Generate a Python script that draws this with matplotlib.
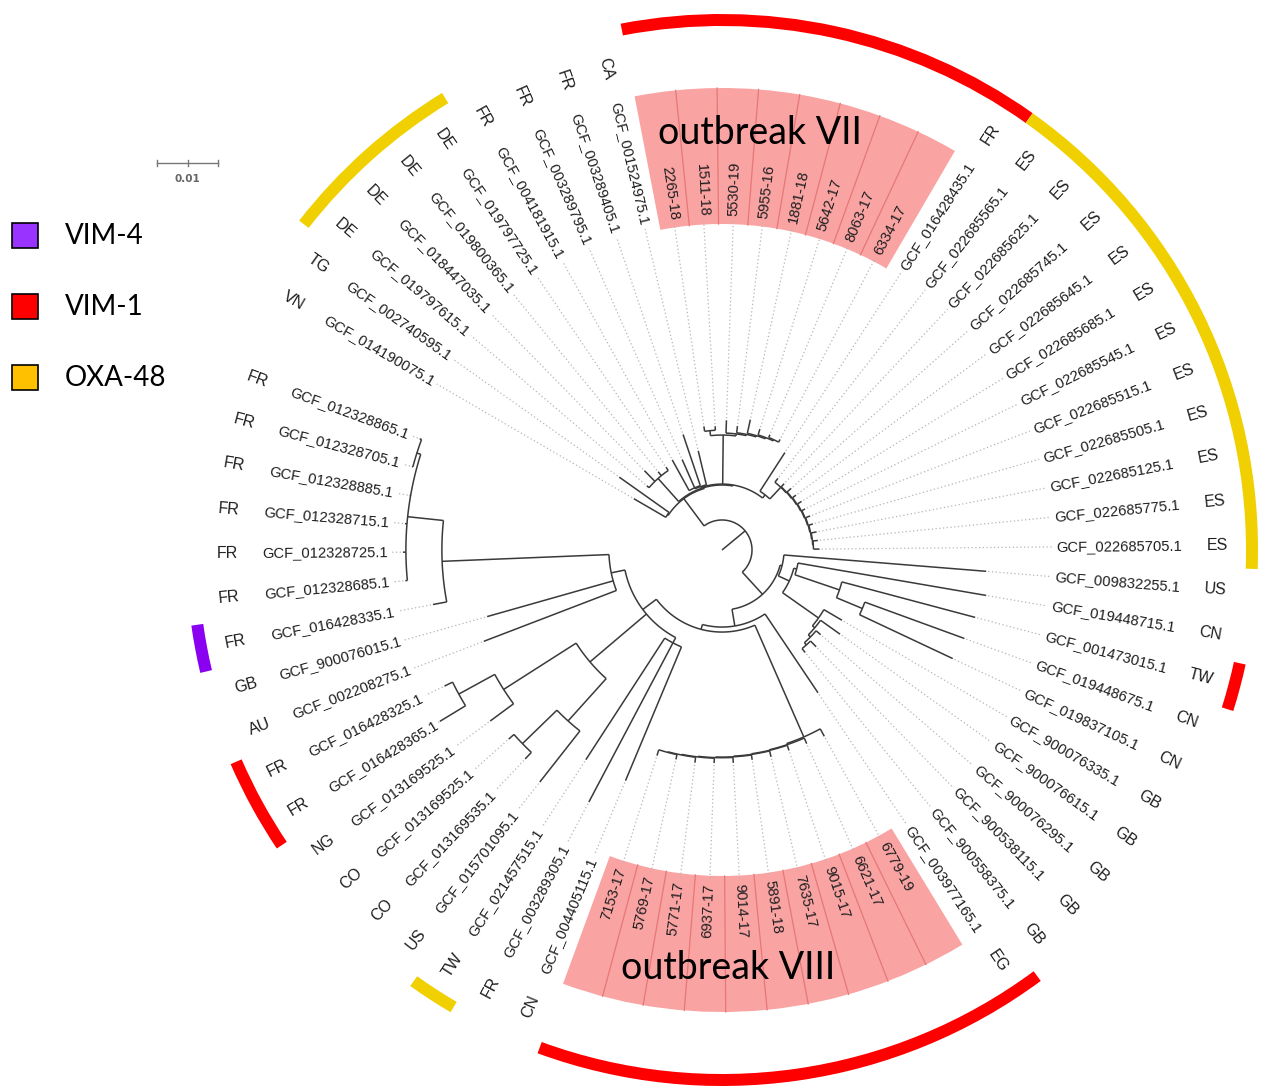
import numpy as np
import matplotlib.pyplot as plt
from matplotlib.patches import Wedge, Rectangle

# leaves in drawing order (counter-clockwise, starting after the gap)
strains = [
    "GCF_012328865.1", "GCF_012328705.1", "GCF_012328885.1", "GCF_012328715.1",
    "GCF_012328725.1", "GCF_012328685.1", "GCF_016428335.1", "GCF_900076015.1",
    "GCF_002208275.1", "GCF_016428325.1", "GCF_016428365.1", "GCF_013169525.1",
    "GCF_013169525.1", "GCF_013169535.1", "GCF_015701095.1", "GCF_021457515.1",
    "GCF_003289305.1", "GCF_004405115.1",
    "7153-17", "5769-17", "5771-17", "6937-17", "9014-17", "5891-18", "7635-17",
    "9015-17", "6621-17", "6779-19",
    "GCF_003977165.1", "GCF_900558375.1", "GCF_900538115.1", "GCF_900076295.1",
    "GCF_900076615.1", "GCF_900076335.1", "GCF_019837105.1", "GCF_019448675.1",
    "GCF_001473015.1", "GCF_019448715.1", "GCF_009832255.1",
    "GCF_022685705.1", "GCF_022685775.1", "GCF_022685125.1", "GCF_022685505.1",
    "GCF_022685515.1", "GCF_022685545.1", "GCF_022685685.1", "GCF_022685645.1",
    "GCF_022685745.1", "GCF_022685625.1", "GCF_022685565.1", "GCF_016428435.1",
    "6334-17", "8063-17", "5642-17", "1881-18", "5955-16", "5530-19", "1511-18",
    "2265-18",
    "GCF_001524975.1", "GCF_003289405.1", "GCF_003289795.1", "GCF_004181915.1",
    "GCF_019797725.1", "GCF_019800365.1", "GCF_018447035.1", "GCF_019797615.1",
    "GCF_002740595.1", "GCF_014190075.1",
]
countries = (["FR"] * 7 + ["GB", "AU", "FR", "FR", "NG", "CO", "CO", "US", "TW", "FR", "CN"]
             + [""] * 10
             + ["EG"] + ["GB"] * 5 + ["CN", "CN", "TW", "CN", "US"] + ["ES"] * 11 + ["FR"]
             + [""] * 8
             + ["CA", "FR", "FR", "FR", "DE", "DE", "DE", "DE", "TG", "VN"])

# carbapenemase per leaf index
vim4 = [6]
vim1 = [9, 10] + list(range(18, 29)) + [36] + list(range(50, 59))
oxa48 = [15] + list(range(39, 50)) + [63, 64, 65, 66]

outbreak_vii = list(range(51, 59))
outbreak_viii = list(range(18, 28))

# tree (leaves named by index), branch lengths in substitutions/site
fr_cluster = "((0:0.00033,1:0.00016):0.00066,2:0.00016,3:0.00033,4:0.00049,5:0.00033)"
clade_p = f"({fr_cluster}:0.00590,6:0.00230)"
clade_q = f"({clade_p}:0.02738,7:0.02148,8:0.02328)"
clade_z = "((9:0.00148,10:0.00492):0.00672,11:0.00475)"
clade_y = "((12:0.00115,13:0.00148):0.00787,14:0.01066)"
clade_x = f"({clade_z}:0.01410,{clade_y}:0.00934)"
clade_w = "(15:0.02377,16:0.02951,17:0.02377)"
clade_ll = f"({clade_q}:0.00230,{clade_x}:0.01213,{clade_w}:0.00098)"
outbreak8 = ("(((((((((18:0.0010,19:0.0008):0.0001,20:0.0009):0.0001,21:0.0008):0.0001,"
             "22:0.0009):0.0001,23:0.0008):0.0001,24:0.0010):0.0001,25:0.0009):0.0001,"
             "26:0.0010):0.0002,27:0.0014)")
clade_k2 = f"({clade_ll}:0.00279,{outbreak8}:0.02000)"
clade_b1 = f"({clade_k2}:0.00082,28:0.01557)"
clade_gb = "((((29:0.00082,30:0.00131):0.00049,31:0.00098):0.00049,32:0.00393):0.00049,33:0.00344)"
clade_n1 = "(((34:0.01689,35:0.01738):0.00459,36:0.02262):0.00770,37:0.03131)"
clade_b3 = f"({clade_gb}:0.00721,{clade_n1}:0.00049)"
clade_b2 = f"({clade_b3}:0.00197,38:0.03328)"
clade_b = f"({clade_b1}:0.00279,{clade_b2}:0.00033)"
es_clade = ("((((((((((39:0.0010,40:0.0008):0.0001,41:0.0009):0.0001,42:0.0007):0.0001,"
            "43:0.0008):0.0001,44:0.0006):0.0001,45:0.0008):0.0001,46:0.0007):0.0001,"
            "47:0.0009):0.0001,48:0.0007):0.0001,49:0.0008)")
clade_u1 = f"({es_clade}:0.00262,50:0.00754)"
vii_right = ("(((((51:0.0005,52:0.0005):0.0002,53:0.0010):0.0002,54:0.0023):0.0002,"
             "55:0.0011):0.0002,56:0.0021)")
clade_vii = f"({vii_right}:0.00033,(57:0.00066,58:0.00082):0.00082)"
clade_cafr = "(59:0.00574,(60:0.00885,61:0.00508,62:0.00574):0.00016)"
clade_a1 = f"({clade_u1}:0.00066,{clade_vii}:0.00803,{clade_cafr}:0.00016)"
clade_de = "(63:0.00066,64:0.00082,65:0.00246,66:0.00049)"
clade_a = f"(({clade_a1}:0.00016,{clade_de}:0.00508):0.00016,(67:0.01000,68:0.00607):0.00016)"
tree_nwk = f"({clade_b}:0.00492,{clade_a}:0.00557):0.00492;"


def parse_newick(s):
    s = "".join(s.split()).rstrip(";")
    pos = 0

    def node():
        nonlocal pos
        kids = []
        if s[pos] == "(":
            pos += 1
            kids.append(node())
            while s[pos] == ",":
                pos += 1
                kids.append(node())
            pos += 1
        st = pos
        while pos < len(s) and s[pos] not in ",():":
            pos += 1
        name = s[st:pos]
        blen = 0.0
        if pos < len(s) and s[pos] == ":":
            pos += 1
            st = pos
            while pos < len(s) and s[pos] not in ",()":
                pos += 1
            blen = float(s[st:pos])
        return {"name": name, "len": blen, "kids": kids}

    return node()


W, H = 1265, 1086
CX, CY = 722, H - 550
PX = 6100.0            # pixels per substitution/site (0.01 -> 61 px)
START = 159.8
STEP = 350.0 / (len(strains) - 1)
R_LABEL = 334
R_COUNTRY = 495
R_RING = 530

tree = parse_newick(tree_nwk)
order = []


def layout(n, depth):
    n["r"] = (depth + n["len"]) * PX
    if not n["kids"]:
        n["a"] = START + STEP * len(order)
        order.append(int(n["name"]))
    else:
        for k in n["kids"]:
            layout(k, depth + n["len"])
        n["a"] = (n["kids"][0]["a"] + n["kids"][-1]["a"]) / 2


layout(tree, 0.0)


def leaf_angle(i):
    return START + STEP * i


def pol(r, a):
    t = np.radians(a)
    return CX + r * np.cos(t), CY + r * np.sin(t)


fig = plt.figure(figsize=(W / 100, H / 100), dpi=100)
ax = fig.add_axes([0, 0, 1, 1])
ax.set_xlim(0, W)
ax.set_ylim(0, H)
ax.axis("off")

tree_kw = dict(color="#3a3a3a", lw=1.1, solid_capstyle="butt", zorder=3)
tips = {}


def draw(n):
    if not n["kids"]:
        tips[int(n["name"])] = n
        return
    a0, a1 = n["kids"][0]["a"], n["kids"][-1]["a"]
    t = np.linspace(a0, a1, 60)
    ax.plot(*pol(n["r"], t), **tree_kw)
    for k in n["kids"]:
        ax.plot(*zip(pol(n["r"], k["a"]), pol(k["r"], k["a"])), **tree_kw)
        draw(k)


ax.plot(*zip(pol(0, tree["a"]), pol(tree["r"], tree["a"])), **tree_kw)
draw(tree)

# outbreak boxes
for grp in (outbreak_vii, outbreak_viii):
    a0 = leaf_angle(grp[0] - 0.5)
    a1 = leaf_angle(grp[-1] + 0.5)
    ax.add_patch(Wedge((CX, CY), 462, a0, a1, width=462 - 326,
                       facecolor="#f9a3a3", edgecolor="none", zorder=1))
    for i in grp[:-1]:
        ax.plot(*zip(pol(326, leaf_angle(i + 0.5)), pol(462, leaf_angle(i + 0.5))),
                color="#e77777", lw=0.9, zorder=1.5)

ax.text(760, H - 133, "outbreak VII", fontsize=27, family="Lato",
        ha="center", va="center", zorder=5)
ax.text(728, H - 968, "outbreak VIII", fontsize=27, family="Lato",
        ha="center", va="center", zorder=5)

# dotted leader lines and labels
for i, name in enumerate(strains):
    a = leaf_angle(i)
    r_tip = tips[i]["r"]
    ax.plot(*zip(pol(r_tip + 2, a), pol(R_LABEL - 4, a)), color="#b5b5b5",
            lw=0.9, ls=(0, (1, 2)), zorder=2)
    right = np.cos(np.radians(a)) >= 0
    rot = a if right else a - 180
    x, y = pol(R_LABEL, a)
    ax.text(x, y, name, fontsize=10.6, family="Liberation Sans", color="#1e1e1e",
            rotation=rot % 360, rotation_mode="anchor",
            ha="left" if right else "right", va="center", zorder=4)
    if countries[i]:
        x, y = pol(R_COUNTRY, a)
        ax.text(x, y, countries[i], fontsize=11.5, family="Liberation Sans",
                color="#1e1e1e", rotation=rot % 360, rotation_mode="anchor",
                ha="center", va="center", zorder=4)

# outer carbapenemase ring
gene_colors = {"VIM-4": "#8a00f0", "VIM-1": "#ff0000", "OXA-48": "#f0d000"}
for gene, idx in (("VIM-4", vim4), ("VIM-1", vim1), ("OXA-48", oxa48)):
    runs = []
    for i in idx:
        if runs and i == runs[-1][-1] + 1:
            runs[-1].append(i)
        else:
            runs.append([i])
    for run in runs:
        ax.add_patch(Wedge((CX, CY), R_RING + 6, leaf_angle(run[0] - 0.5),
                           leaf_angle(run[-1] + 0.5), width=12,
                           facecolor=gene_colors[gene], edgecolor="none", zorder=2))

# legend
legend_colors = {"VIM-4": "#9933ff", "VIM-1": "#ff0000", "OXA-48": "#ffc000"}
for k, gene in enumerate(["VIM-4", "VIM-1", "OXA-48"]):
    y = H - 236 - k * 71
    ax.add_patch(Rectangle((12, y - 12), 26, 25, facecolor=legend_colors[gene],
                           edgecolor="black", lw=1.2, zorder=5))
    ax.text(65, y, gene, fontsize=20, family="Lato", ha="left", va="center")

# scale bar
sb_y = H - 163
ax.plot([157, 157 + 0.01 * PX], [sb_y, sb_y], color="#777777", lw=1)
for xt in (157, 157 + 0.005 * PX, 157 + 0.01 * PX):
    ax.plot([xt, xt], [sb_y - 3, sb_y + 3], color="#777777", lw=1)
ax.text(157 + 0.005 * PX, sb_y - 16, "0.01", fontsize=7.5, color="#666666",
        fontweight="bold", ha="center", va="center", family="DejaVu Sans")

fig.savefig("out.png", dpi=100)
